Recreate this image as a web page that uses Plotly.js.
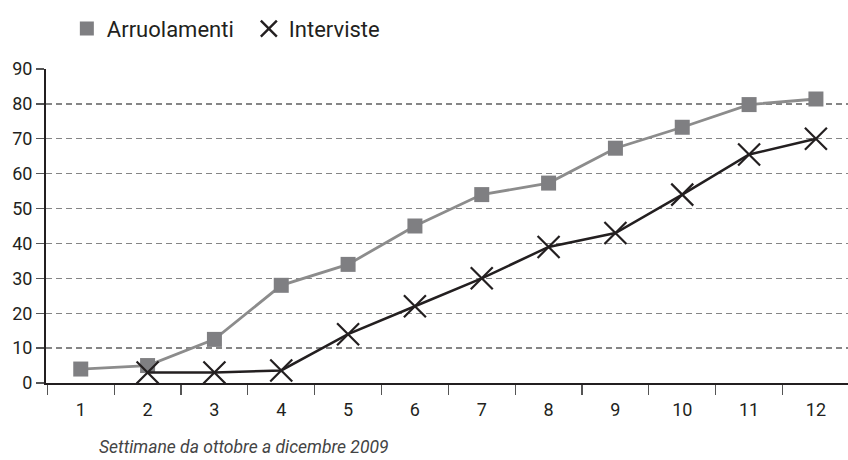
<!DOCTYPE html>
<html>
<head>
<meta charset="utf-8">
<script src="https://cdn.plot.ly/plotly-3.0.1.min.js"></script>
<style>html,body{margin:0;padding:0;background:#fff;}#chart{width:848px;height:460px;}</style>
</head>
<body>
<div id="chart"></div>
<script>
var weeks = ["1","2","3","4","5","6","7","8","9","10","11","12"];
var arruolamenti = [4, 5, 12.5, 28, 34, 45, 54, 57.3, 67.3, 73.3, 79.8, 81.4];
var intervisteWeeks = ["2","3","4","5","6","7","8","9","10","11","12"];
var interviste = [3, 3, 3.6, 14, 22, 30, 39, 43, 54, 65.5, 70];
var yTicks = [0,10,20,30,40,50,60,70,80,90];
var xTitle = "Settimane da ottobre a dicembre 2009";

var grayLine = "#8c8c8c", grayMarker = "#7f7f82", dark = "#231f20";

var traces = [
  {
    x: weeks, y: arruolamenti, name: "Arruolamenti", type: "scatter", mode: "lines+markers",
    showlegend: false,
    line: {color: grayLine, width: 2.8},
    marker: {symbol: "square", size: 15, color: grayMarker}
  },
  {
    x: intervisteWeeks, y: interviste, name: "Interviste", type: "scatter", mode: "lines+markers",
    showlegend: false,
    line: {color: dark, width: 2.5},
    marker: {symbol: "x-thin-open", size: 22, color: dark, line: {color: dark, width: 2.2}}
  },
  {
    x: [weeks[0]], y: [null], name: "Arruolamenti", type: "scatter", mode: "markers",
    marker: {symbol: "square", size: 14, color: grayMarker}
  },
  {
    x: [weeks[0]], y: [null], name: "Interviste", type: "scatter", mode: "markers",
    marker: {symbol: "x-thin-open", size: 24, color: dark, line: {color: dark, width: 2.4}}
  }
];

var layout = {
  width: 848, height: 460,
  margin: {l: 46, r: 0, t: 69, b: 77},
  paper_bgcolor: "#fff", plot_bgcolor: "#fff",
  font: {family: "Roboto, 'DejaVu Sans', sans-serif", color: dark, size: 18},
  showlegend: true,
  legend: {orientation: "h", x: 0.026, y: 1.195, xanchor: "left", yanchor: "top",
           font: {size: 22, color: dark}, itemwidth: 30, entrywidth: 137, entrywidthmode: "pixels"},
  xaxis: {
    type: "category", categoryorder: "array", categoryarray: weeks,
    range: [-0.52, 11.48],
    tickson: "boundaries", ticks: "outside", ticklen: 10, tickcolor: "#555", tickwidth: 1.3,
    ticklabelstandoff: 9,
    showline: true, linecolor: dark, linewidth: 2,
    showgrid: false, zeroline: false,
    tickfont: {size: 18, color: dark}
  },
  yaxis: {
    range: [0, 90], tickmode: "array", tickvals: yTicks, ticktext: yTicks.map(String),
    ticks: "outside", ticklen: 8, tickcolor: "#555", tickwidth: 1.3,
    showline: true, linecolor: dark, linewidth: 2,
    showgrid: true, gridcolor: "#858585", gridwidth: 1.3, griddash: "6px,4px",
    zeroline: false,
    tickfont: {size: 18, color: dark}
  },
  annotations: [{
    text: "<i>" + xTitle + "</i>", xref: "paper", yref: "paper",
    x: 0.0636, y: -0.204, xanchor: "left", yanchor: "middle", showarrow: false,
    font: {size: 17.5, color: "#444"}
  }]
};

Plotly.newPlot("chart", traces, layout, {displayModeBar: false, staticPlot: true});
</script>
</body>
</html>
